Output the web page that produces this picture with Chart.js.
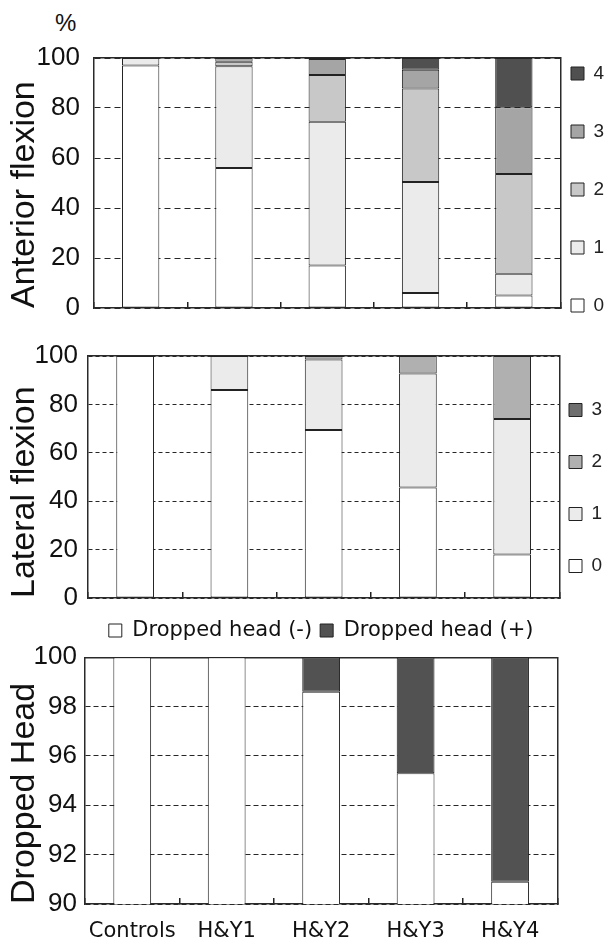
<!DOCTYPE html>
<html>
<head>
<meta charset="utf-8">
<title>Neck flexion by H&amp;Y stage</title>
<script src="https://cdn.jsdelivr.net/npm/chart.js@4.4.1/dist/chart.umd.min.js"></script>
<style>
  body { margin: 0; background: #fff; overflow: hidden; }
  #wrap { position: relative; width: 605px; height: 943px; }
  .panel { position: absolute; left: 0; width: 605px; }
  #percent { position: absolute; left: 55px; top: 9px; line-height: 24px;
             font: 24px "Liberation Sans", Arial, sans-serif; color: #111; }
</style>
</head>
<body>
<div id="wrap">
  <div id="percent">%</div>
  <div class="panel" style="top:0;height:328px"><canvas id="chartAnterior"></canvas></div>
  <div class="panel" style="top:328px;height:284px"><canvas id="chartLateral"></canvas></div>
  <div class="panel" style="top:612px;height:331px"><canvas id="chartDropped"></canvas></div>
</div>
<script>
var categories = ['Controls', 'H&Y1', 'H&Y2', 'H&Y3', 'H&Y4'];

// Anterior flexion, % per grade
var anteriorGrades = ['0', '1', '2', '3', '4'];
var anteriorGrade0 = [97, 56, 17, 6, 5];
var anteriorGrade1 = [3, 40.7, 57.5, 44.4, 8.7];
var anteriorGrade2 = [0, 1.8, 18.7, 37.4, 39.9];
var anteriorGrade3 = [0, 1.5, 6.4, 7.5, 26.7];
var anteriorGrade4 = [0, 0, 0.4, 4.7, 19.7];

// Lateral flexion, % per grade
var lateralGrades = ['0', '1', '2', '3'];
var lateralGrade0 = [100, 86, 69.4, 45.7, 18];
var lateralGrade1 = [0, 14, 29.2, 47.1, 56];
var lateralGrade2 = [0, 0, 1.4, 7.2, 26];
var lateralGrade3 = [0, 0, 0, 0, 0];

// Dropped head, %
var droppedLabels = ['Dropped head (-)', 'Dropped head (+)'];
var droppedNo = [100, 100, 98.6, 95.3, 90.9];
var droppedYes = [0, 0, 1.4, 4.7, 9.1];

// y ranges: min, max, step
var flexionRange = [0, 100, 20];
var droppedRange = [90, 100, 2];

var anteriorColors = ['#ffffff', '#ebebeb', '#c8c8c8', '#a5a5a5', '#505050'];
var lateralColors = ['#ffffff', '#ebebeb', '#b0b0b0', '#6e6e6e'];
var droppedColors = ['#ffffff', '#525252'];

var SANS = '"Liberation Sans", Arial, sans-serif';
var TICK_FONT = { family: SANS, size: 26, lineHeight: 1 };
var TITLE_FONT = { family: SANS, size: 34 };
var LABEL_FONT = { family: '"DejaVu Sans", sans-serif', size: 21 };

Chart.defaults.font.family = SANS;
Chart.defaults.color = '#111';

function buildDatasets(labels, series, colors, clip) {
    return series.map(function (values, i) {
        var ds = {
            label: labels[i],
            data: values,
            backgroundColor: colors[i],
            borderColor: '#222',
            borderWidth: 1,
            borderSkipped: false,
            barPercentage: 0.4,
            categoryPercentage: 1.0
        };
        if (clip !== undefined) ds.clip = clip;
        return ds;
    });
}

function yAxis(range, title, width, labelGap, dash) {
    return {
        stacked: true,
        min: range[0],
        max: range[1],
        ticks: { stepSize: range[2], padding: 0, color: '#111', font: TICK_FONT },
        // invisible tick marks give the gap between labels and frame
        grid: { color: '#262626', lineWidth: 1, drawTicks: true, tickLength: labelGap, tickWidth: 0, tickColor: 'rgba(0,0,0,0)' },
        border: { display: true, color: '#2a2a2a', width: 1.5, dash: dash },
        title: {
            display: true, text: title, align: 'start', color: '#111',
            font: TITLE_FONT, padding: { top: 4, bottom: 0 }
        },
        afterFit: function (scale) { scale.width = width; }
    };
}

function xAxis(height, showLabels, labelPadding) {
    return {
        stacked: true,
        ticks: {
            display: showLabels, padding: labelPadding, color: '#111',
            font: LABEL_FONT, maxRotation: 0, autoSkip: false
        },
        // short marks between groups, pointing up into the plot
        grid: { display: true, drawOnChartArea: false, drawTicks: true, tickLength: -6, color: '#222', lineWidth: 1.5 },
        border: { display: true, color: '#2a2a2a', width: 1.5 },
        afterFit: function (scale) { scale.height = height; }
    };
}

// top and right edges of the plot frame
function topFrame(height) {
    return {
        type: 'category', position: 'top',
        grid: { display: false }, ticks: { display: false },
        border: { display: true, color: '#2a2a2a', width: 1.5 },
        afterFit: function (scale) { scale.height = height; }
    };
}

function rightFrame(range, width) {
    return {
        type: 'linear', position: 'right', min: range[0], max: range[1],
        grid: { display: false }, ticks: { display: false },
        border: { display: true, color: '#2a2a2a', width: 1.5 },
        afterFit: function (scale) { scale.width = width; }
    };
}

function legendRight(titleHeight, advance, maxWidth) {
    var gap = 8;
    return {
        position: 'right',
        align: 'start',
        reverse: true,
        maxWidth: maxWidth,
        // empty title only reserves the space above the first item
        title: { display: true, text: '', padding: 0, font: { size: 10, lineHeight: titleHeight + 'px' } },
        labels: {
            boxWidth: 13,
            boxHeight: 13,
            padding: gap,
            color: '#222',
            font: { family: SANS, size: 19, lineHeight: (advance - gap) + 'px' },
            generateLabels: function (chart) {
                var items = Chart.defaults.plugins.legend.labels.generateLabels(chart);
                // array text -> row height follows font lineHeight (last row stays short)
                items.forEach(function (item, i) {
                    if (i > 0) item.text = [item.text];
                });
                return items;
            }
        }
    };
}

function initializeChartAnterior() {
    var ctx = document.getElementById('chartAnterior').getContext('2d');
    new Chart(ctx, {
        type: 'bar',
        data: {
            labels: categories,
            datasets: buildDatasets(anteriorGrades,
                [anteriorGrade0, anteriorGrade1, anteriorGrade2, anteriorGrade3, anteriorGrade4],
                anteriorColors)
        },
        options: {
            responsive: true,
            maintainAspectRatio: false,
            animation: false,
            plugins: { legend: legendRight(56, 58, 42), tooltip: { enabled: false } },
            scales: {
                x: xAxis(20, false, 0),
                y: yAxis(flexionRange, 'Anterior flexion', 94, 14, [6, 4]),
                x2: topFrame(58),
                y2: rightFrame(flexionRange, 2.5)
            }
        }
    });
}

function initializeChartLateral() {
    var ctx = document.getElementById('chartLateral').getContext('2d');
    new Chart(ctx, {
        type: 'bar',
        data: {
            labels: categories,
            datasets: buildDatasets(lateralGrades,
                [lateralGrade0, lateralGrade1, lateralGrade2, lateralGrade3],
                lateralColors)
        },
        options: {
            responsive: true,
            maintainAspectRatio: false,
            animation: false,
            plugins: { legend: legendRight(64.5, 52, 44), tooltip: { enabled: false } },
            scales: {
                x: xAxis(14, false, 0),
                y: yAxis(flexionRange, 'Lateral flexion', 88, 10, [4, 3]),
                x2: topFrame(28),
                y2: rightFrame(flexionRange, 1.7)
            }
        }
    });
}

function initializeChartDropped() {
    var ctx = document.getElementById('chartDropped').getContext('2d');
    new Chart(ctx, {
        type: 'bar',
        data: {
            labels: categories,
            datasets: buildDatasets(droppedLabels, [droppedNo, droppedYes], droppedColors, 0)
        },
        options: {
            responsive: true,
            maintainAspectRatio: false,
            animation: false,
            layout: { padding: { right: 47.7 } },
            plugins: {
                legend: {
                    position: 'top',
                    fullSize: false,
                    labels: { boxWidth: 13, boxHeight: 13, padding: 8, color: '#111', font: LABEL_FONT }
                },
                tooltip: { enabled: false }
            },
            scales: {
                x: xAxis(39, true, 21),
                y: yAxis(droppedRange, 'Dropped Head', 85, 8, [5, 3]),
                x2: topFrame(6.3),
                y2: rightFrame(droppedRange, 0)
            }
        }
    });
}

initializeChartAnterior();
initializeChartLateral();
initializeChartDropped();
</script>
</body>
</html>
